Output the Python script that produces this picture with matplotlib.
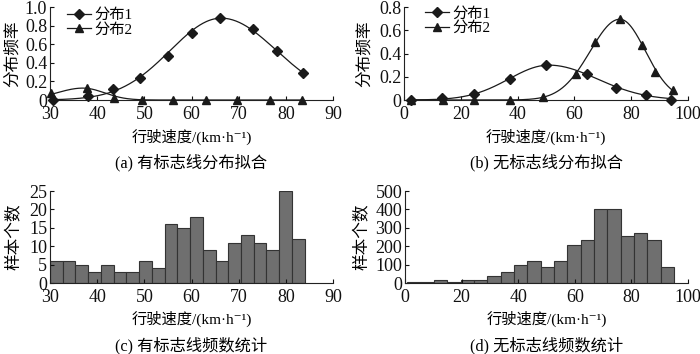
import numpy as np
import matplotlib
matplotlib.use("Agg")
import matplotlib.pyplot as plt

plt.rcParams['font.family'] = ['Liberation Serif', 'Noto Sans CJK SC', 'DejaVu Serif']
plt.rcParams['axes.unicode_minus'] = False

# ---------------- data ----------------
# (a) with lane markings: fitted distribution points
a_x1 = [30.6, 38.0, 43.4, 49.1, 55.0, 60.2, 66.0, 73.1, 78.1, 83.6]
a_y1 = [0.0, 0.043, 0.115, 0.24, 0.475, 0.72, 0.88, 0.766, 0.53, 0.29]
a_x2 = [30.2, 37.9, 43.6, 49.4, 56.0, 63.0, 69.7, 76.6, 83.5]
a_y2 = [0.07, 0.125, 0.025, 0.0, 0.0, 0.0, 0.0, 0.0, 0.0]
# fitted curve parameters (peak, mean, left sd, right sd)
a_fit1 = (0.88, 66.3, 10.8, 11.7)
a_fit2 = (0.128, 37.0, 5.5, 4.5)
a_curve_range = (30.0, 83.6)

# (b) without lane markings
b_x1 = [2.3, 13.5, 24.6, 37.2, 50.1, 64.6, 74.8, 85.3, 94.1]
b_y1 = [0.0, 0.02, 0.05, 0.18, 0.30, 0.225, 0.105, 0.04, 0.0]
b_x2 = [2.3, 13.7, 24.6, 37.2, 49.0, 60.4, 67.4, 75.9, 83.7, 88.4, 94.7]
b_y2 = [0.0, 0.0, 0.0, 0.0, 0.026, 0.225, 0.495, 0.695, 0.47, 0.245, 0.09]
b_fit1 = (0.30, 51.0, 14.0, 17.0)
b_fit2 = (0.695, 76.0, 10.4, 9.0)
b_curve_range = (2.0, 95.0)

# (c) histogram with lane markings
c_edges_range = (30.0, 84.0)
c_counts = [6, 6, 5, 3, 5, 3, 3, 6, 4, 16, 15, 18, 9, 6, 11, 13, 11, 9, 25, 12]

# (d) histogram without lane markings
d_edges_range = (0.8, 95.0)
d_counts = [5, 5, 14, 7, 16, 14, 36, 62, 96, 120, 87, 120, 207, 234, 400, 404,
            257, 270, 236, 89]

xlabel = '行驶速度/(km·h⁻¹)'
captions = ['(a) 有标志线分布拟合', '(b) 无标志线分布拟合',
            '(c) 有标志线频数统计', '(d) 无标志线频数统计']
ylabels = ['分布频率', '分布频率', '样本个数', '样本个数']
legend_labels = ['分布1', '分布2']


def split_normal(x, params):
    amp, mu, sl, sr = params
    s = np.where(x < mu, sl, sr)
    return amp * np.exp(-(x - mu) ** 2 / (2 * s ** 2))


W, H = 700, 354
fig = plt.figure(figsize=(W / 100, H / 100), dpi=100)


def add_ax(l, r, t, b):
    return fig.add_axes([l / W, 1 - b / H, (r - l) / W, (b - t) / H])


axa = add_ax(50, 333, 7, 100)
axb = add_ax(404, 688, 7, 100)
axc = add_ax(50, 333, 191, 283)
axd = add_ax(405, 688, 191, 283)

lc = '#1a1a1a'
tick_fs = 13


def style(ax):
    for s in ['top', 'right']:
        ax.spines[s].set_visible(False)
    for s in ['left', 'bottom']:
        ax.spines[s].set_linewidth(0.8)
        ax.spines[s].set_color('#222222')
    ax.tick_params(direction='in', length=3, width=0.8, labelsize=tick_fs,
                   colors='#111111')
    ax.tick_params(axis='x', pad=4)
    ax.tick_params(axis='y', pad=2)


def fmt_dec(v):
    return '0' if abs(v) < 1e-9 else f'{v:.1f}'


# ---- (a)
xs = np.linspace(*a_curve_range, 300)
axa.plot(xs, split_normal(xs, a_fit1), color=lc, lw=0.9, clip_on=False)
axa.plot(xs, split_normal(xs, a_fit2), color=lc, lw=0.9, clip_on=False)
axa.plot(a_x1, a_y1, 'D', color=lc, ms=5, clip_on=False, zorder=5)
axa.plot(a_x2, a_y2, '^', color=lc, ms=5.5, clip_on=False, zorder=5)
axa.set_xlim(30, 90)
axa.set_ylim(0, 1.0)
axa.set_xticks(np.arange(30, 91, 10))
yt = np.arange(0, 1.01, 0.2)
axa.set_yticks(yt)
axa.set_yticklabels([fmt_dec(v) for v in yt])

# ---- (b)
xs = np.linspace(*b_curve_range, 300)
axb.plot(xs, split_normal(xs, b_fit1), color=lc, lw=0.9, clip_on=False)
axb.plot(xs, split_normal(xs, b_fit2), color=lc, lw=0.9, clip_on=False)
axb.plot(b_x1, b_y1, 'D', color=lc, ms=5, clip_on=False, zorder=5)
axb.plot(b_x2, b_y2, '^', color=lc, ms=5.5, clip_on=False, zorder=5)
axb.set_xlim(0, 100)
axb.set_ylim(0, 0.8)
axb.set_xticks(np.arange(0, 101, 20))
yt = np.arange(0, 0.81, 0.2)
axb.set_yticks(yt)
axb.set_yticklabels([fmt_dec(v) for v in yt])

# legends (proxy handles using markers + line)
for ax, xa, ya in [(axa, 0.06, 0.985), (axb, 0.074, 1.0)]:
    h1, = ax.plot([], [], '-D', color=lc, lw=0.9, ms=5)
    h2, = ax.plot([], [], '-^', color=lc, lw=0.9, ms=5.5)
    ax.legend([h1, h2], legend_labels, loc='upper left', bbox_to_anchor=(xa, ya),
              frameon=False, fontsize=11, handlelength=1.6, handletextpad=0.2,
              labelspacing=0.05, borderpad=0, borderaxespad=0, numpoints=1)

# ---- (c)
bar_fc = '#6f6f6f'
bar_ec = '#333333'
c_edges = np.linspace(*c_edges_range, len(c_counts) + 1)
axc.bar(c_edges[:-1], c_counts, width=np.diff(c_edges), align='edge',
        color=bar_fc, edgecolor=bar_ec, linewidth=0.8)
axc.set_xlim(30, 90)
axc.set_ylim(0, 25)
axc.set_xticks(np.arange(30, 91, 10))
axc.set_yticks(np.arange(0, 26, 5))

# ---- (d)
d_edges = np.linspace(*d_edges_range, len(d_counts) + 1)
axd.bar(d_edges[:-1], d_counts, width=np.diff(d_edges), align='edge',
        color=bar_fc, edgecolor=bar_ec, linewidth=0.8)
axd.set_xlim(0, 100)
axd.set_ylim(0, 500)
axd.set_xticks(np.arange(0, 101, 20))
axd.set_yticks(np.arange(0, 501, 100))

axes = [axa, axb, axc, axd]
# label positions in pixels: (ylabel x, xlabel y, caption y)
pos = [(13, 137, 163), (365, 137, 163), (15, 319, 346), (363, 319, 346)]
for ax, yl, cap, (ylx, xly, cpy) in zip(axes, ylabels, captions, pos):
    style(ax)
    bb = ax.get_position()
    cx = (bb.x0 + bb.x1) / 2
    cy = (bb.y0 + bb.y1) / 2
    fig.text(cx, 1 - xly / H, xlabel, ha='center', va='center', fontsize=11)
    fig.text(cx, 1 - cpy / H, cap, ha='center', va='center', fontsize=11.7)
    fig.text(ylx / W, cy, yl, ha='center', va='center', rotation=90, fontsize=12)

fig.savefig('out.png', dpi=100)
